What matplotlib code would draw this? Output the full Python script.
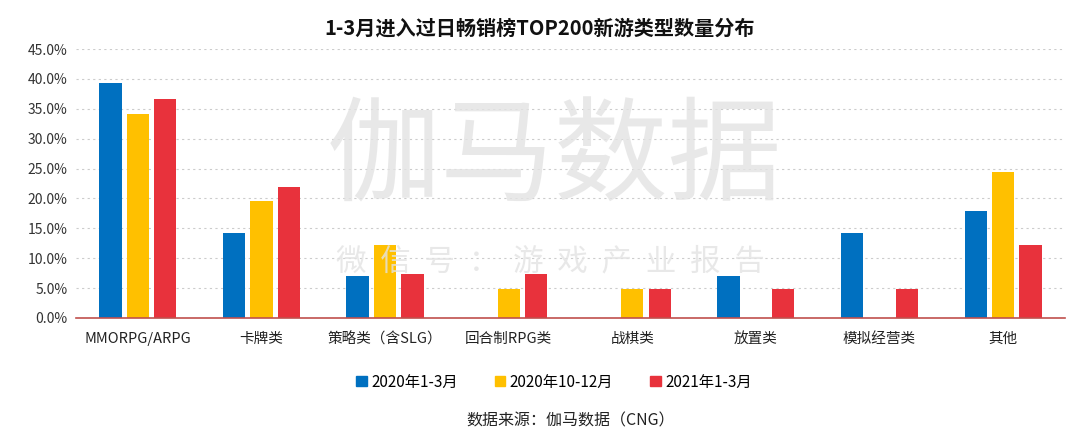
import matplotlib
matplotlib.use("Agg")
import matplotlib.pyplot as plt
import numpy as np
from matplotlib.patches import Patch

plt.rcParams['font.family'] = ['Noto Sans CJK SC', 'DejaVu Sans']

title = "1-3月进入过日畅销榜TOP200新游类型数量分布"
categories = ["MMORPG/ARPG", "卡牌类", "策略类（含SLG）", "回合制RPG类", "战棋类", "放置类", "模拟经营类", "其他"]
series_names = ["2020年1-3月", "2020年10-12月", "2021年1-3月"]
s2020q1 = [39.3, 14.3, 7.1, 0.0, 0.0, 7.1, 14.3, 17.9]
s2020q4 = [34.1, 19.5, 12.2, 4.9, 4.9, 0.0, 0.0, 24.4]
s2021q1 = [36.6, 22.0, 7.3, 7.3, 4.9, 4.9, 4.9, 12.2]
colors = ["#0070C0", "#FFC000", "#E8323C"]
yticks = [0, 5, 10, 15, 20, 25, 30, 35, 40, 45]
source = "数据来源：伽马数据（CNG）"

fig = plt.figure(figsize=(10.8, 4.38), dpi=100)
ax = fig.add_axes([0.0704, 0.274, 0.9156, 0.614])

x = np.arange(len(categories))
w = 0.18
step = 0.222
for i, (vals, c) in enumerate(zip([s2020q1, s2020q4, s2021q1], colors)):
    ax.bar(x + (i - 1) * step, vals, width=w, color=c, zorder=3, label=series_names[i])

ax.set_xlim(-0.5, len(categories) - 0.5)
ax.set_ylim(0, 45)
ax.set_yticks(yticks)
ax.set_yticklabels([f"{v:.1f}%" for v in yticks], fontsize=10, color="#333333")
ax.set_xticks(x)
ax.set_xticklabels(categories, fontsize=10.5, color="#222222")
ax.tick_params(axis="both", length=0, pad=6)
ax.tick_params(axis="x", pad=10)
for s in ["top", "right", "left"]:
    ax.spines[s].set_visible(False)
ax.spines["bottom"].set_color("#C0504D")
ax.spines["bottom"].set_linewidth(1.2)
ax.spines["bottom"].set_zorder(4)
ax.yaxis.grid(True, linestyle=(0, (2, 3)), color="#cccccc", linewidth=0.8, zorder=0)
ax.set_axisbelow(True)

# watermark
fig.text(0.513, 0.635, "伽马数据", fontsize=82, color="#e3e3e3", ha="center", va="center", alpha=0.8, zorder=5)
fig.text(0.51, 0.403, "微  信  号  ：  游  戏  产  业  报  告", fontsize=22, color="#e3e3e3", ha="center", va="center", alpha=0.8, zorder=5)

fig.text(0.5, 0.935, title, fontsize=14.5, fontweight="bold", ha="center", va="center", color="#111111")

handles = [Patch(color=c, label=n) for c, n in zip(colors, series_names)]
fig.legend(handles=handles, loc="center", bbox_to_anchor=(0.513, 0.128), ncol=3, frameon=False,
           fontsize=11, handlelength=0.7, handleheight=0.7, handletextpad=0.3, columnspacing=2.4)

fig.text(0.528, 0.04, source, fontsize=11.5, ha="center", va="center", color="#222222")

fig.savefig("out.png", dpi=100)
